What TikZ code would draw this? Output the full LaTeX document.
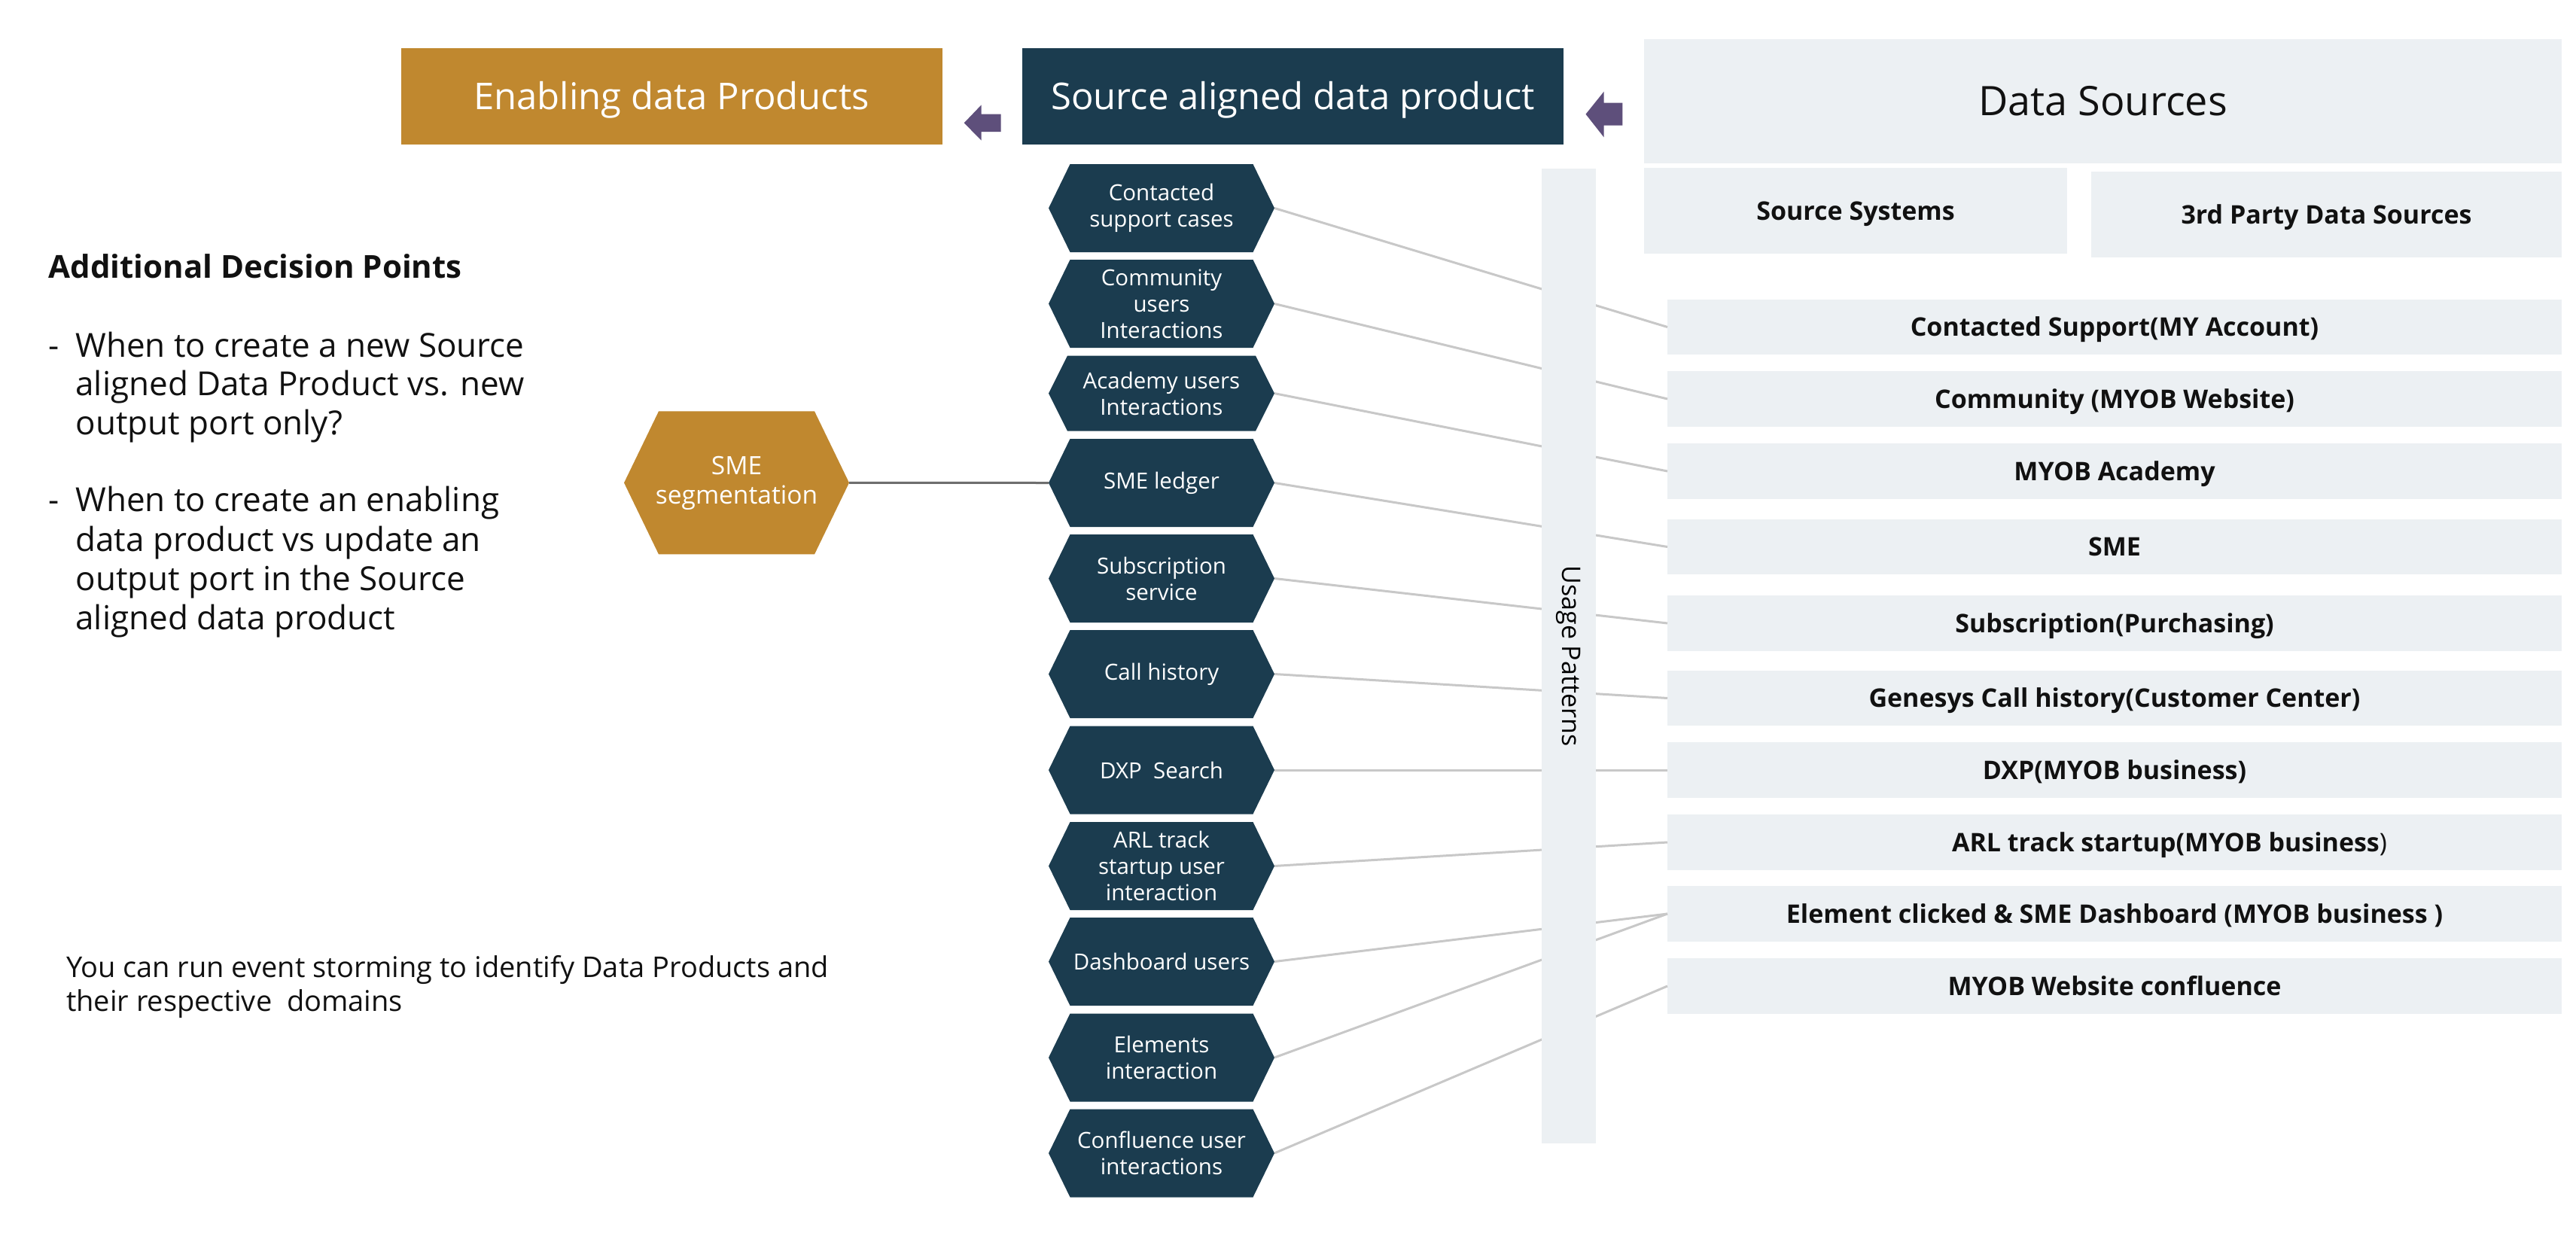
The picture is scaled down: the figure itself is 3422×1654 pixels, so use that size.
\documentclass[tikz,border=0pt]{standalone}
\usepackage{fontspec}
\setmainfont{Open Sans}
\definecolor{navy}{HTML}{1B3C4F}
\definecolor{ochre}{HTML}{C0882F}
\definecolor{arrowpurple}{HTML}{5E4F7B}
\definecolor{panel}{HTML}{ECF0F3}
\definecolor{linkgray}{HTML}{C8C8C8}
\definecolor{darklink}{HTML}{6E6E6E}
\definecolor{ink}{HTML}{111111}
\tikzset{
  every node/.style={inner sep=0pt, outer sep=0pt},
  titlebox/.style={minimum width=719pt, minimum height=128pt, text=white,
    font=\fontsize{49}{58}\selectfont, text height=35pt, text depth=0pt},
  panelbox/.style={fill=panel, text=ink},
  rowbox/.style={panelbox, minimum width=1188pt, minimum height=73.5pt,
    font=\bfseries\fontsize{34}{40}\selectfont, text height=24.3pt, text depth=0pt},
  hexnode/.style n args={3}{minimum width=#1, minimum height=#2, text=white, align=center,
    path picture={\fill[navy] (path picture bounding box.west)
      -- ([xshift=#3]path picture bounding box.north west)
      -- ([xshift=-#3]path picture bounding box.north east)
      -- (path picture bounding box.east)
      -- ([xshift=-#3]path picture bounding box.south east)
      -- ([xshift=#3]path picture bounding box.south west) -- cycle;}},
  hexa/.style={hexnode={300pt}{117pt}{28.5pt}, font=\fontsize{29.5}{35}\selectfont},
  link/.style={draw=linkgray, line width=3pt},
  leftline/.style={anchor=base west, text=ink, font=\fontsize{44}{52}\selectfont},
  blockarrow/.style={fill=arrowpurple},
}
\begin{document}
\begin{tikzpicture}[x=1pt,y=-1pt]
\fill[white] (0,0) rectangle (3422,1654);
\useasboundingbox (0,0) rectangle (3422,1654);

% top boxes
\node[titlebox, fill=ochre] (enab) at (892,128.3) {Enabling data Products};
\node[titlebox, fill=navy] (src) at (1717.5,128) {Source aligned data product};
\node[panelbox, minimum width=1219pt, minimum height=165pt, font=\fontsize{54}{64}\selectfont,
  text height=38.6pt, text depth=0pt] (ds) at (2793.5,134.6) {Data Sources};
\node[panelbox, minimum width=562pt, minimum height=113.4pt, font=\bfseries\fontsize{34}{40}\selectfont,
  text height=24.3pt, text depth=0pt] (ss) at (2465,280) {Source Systems};
\node[panelbox, minimum width=625pt, minimum height=113.4pt, font=\bfseries\fontsize{34}{40}\selectfont,
  text height=24.3pt, text depth=0pt] (tp) at (3090.5,285) {3rd Party Data Sources};

% block arrows
\fill[blockarrow] (1280.7,163.3) -- (1303.7,139.3) -- (1303.7,151.7) -- (1329.5,151.7)
  -- (1329.5,175) -- (1303.7,175) -- (1303.7,186.7) -- cycle;
\fill[blockarrow] (2106.5,151.7) -- (2130.6,121.7) -- (2130.6,136.7) -- (2155.3,136.7)
  -- (2155.3,166.7) -- (2130.6,166.7) -- (2130.6,182.3) -- cycle;

% source rows
\node[rowbox] (r1) at (2809,434.5) {Contacted Support(MY Account)};
\node[rowbox] (r2) at (2809,530) {Community (MYOB Website)};
\node[rowbox] (r3) at (2809,626) {MYOB Academy};
\node[rowbox] (r4) at (2809,726.5) {SME};
\node[rowbox] (r5) at (2809,828) {Subscription(Purchasing)};
\node[rowbox] (r6) at (2809,927.5) {Genesys Call history(Customer Center)};
\node[rowbox] (r7) at (2809,1023) {DXP(MYOB business)};
\node[rowbox] (r8) at (2809,1119) {\hspace*{146pt}ARL track startup(MYOB business\mdseries)};
\node[rowbox] (r9) at (2809,1214) {Element clicked \& SME Dashboard (MYOB business )};
\node[rowbox] (r10) at (2809,1310) {MYOB Website confluence};

% hexagons
\node[hexa] (h1) at (1543,276.5) {Contacted\\support cases};
\node[hexa] (h2) at (1543,403.5) {Community\\users\\Interactions};
\node[hexnode={300pt}{100pt}{25pt}, font=\fontsize{29.5}{35}\selectfont] (h3) at (1543,522.6) {Academy users\\Interactions};
\node[hexa] (h4) at (1543,641.5) {SME ledger};
\node[hexa] (h5) at (1543,768.5) {Subscription\\service};
\node[hexa] (h6) at (1543,895.5) {Call history};
\node[hexa] (h7) at (1543,1023) {DXP\ \ Search};
\node[hexa] (h8) at (1543,1150.5) {ARL track\\startup user\\interaction};
\node[hexa] (h9) at (1543,1277.5) {Dashboard users};
\node[hexa] (h10) at (1543,1405) {Elements\\interaction};
\node[hexa] (h11) at (1543,1532) {Confluence user\\interactions};

\node[hexnode={299pt}{190pt}{46pt}, font=\fontsize{33.5}{39}\selectfont,
  path picture={\fill[ochre] (path picture bounding box.west)
      -- ([xshift=46pt]path picture bounding box.north west)
      -- ([xshift=-46pt]path picture bounding box.north east)
      -- (path picture bounding box.east)
      -- ([xshift=-46pt]path picture bounding box.south east)
      -- ([xshift=46pt]path picture bounding box.south west) -- cycle;}]
  (seg) at (978.5,641.4) {SME\\segmentation};

% connectors
\draw[draw=darklink, line width=3pt] (seg.east) -- (h4.west);
\draw[link] (h1.east) -- (r1.west);
\draw[link] (h2.east) -- (r2.west);
\draw[link] (h3.east) -- (r3.west);
\draw[link] (h4.east) -- (r4.west);
\draw[link] (h5.east) -- (r5.west);
\draw[link] (h6.east) -- (r6.west);
\draw[link] (h7.east) -- (r7.west);
\draw[link] (h8.east) -- (r8.west);
\draw[link] (h9.east) -- (r9.west);
\draw[link] (h10.east) -- (r9.west);
\draw[link] (h11.east) -- (r10.west);

% usage patterns bar (over the connectors)
\node[panelbox, rotate=-90, minimum width=1295pt, minimum height=72pt,
  font=\fontsize{34}{40}\selectfont, text=black] (usage) at (2084,871.5) {Usage Patterns};

% left text
\node[leftline, font=\bfseries\fontsize{42}{50}\selectfont] (adp) at (64.5,369.6) {Additional Decision Points};
\node[leftline] (d1) at (64.5,474) {-};
\node[leftline] (b1a) at (100.5,474) {When to create a new Source};
\node[leftline] (b1b) at (100.5,525) {aligned Data Product vs. new};
\node[leftline] (b1c) at (100.5,577) {output port only?};
\node[leftline] (d2) at (64.5,679) {-};
\node[leftline] (b2a) at (100.5,679) {When to create an enabling};
\node[leftline] (b2b) at (100.5,732) {data product vs update an};
\node[leftline] (b2c) at (100.5,784) {output port in the Source};
\node[leftline] (b2d) at (100.5,836) {aligned data product};

\node[leftline, font=\fontsize{38}{45}\selectfont] (es1) at (88,1298.3) {You can run event storming to identify Data Products and};
\node[leftline, font=\fontsize{38}{45}\selectfont] (es2) at (88,1343.3) {their respective\ \ domains};
\end{tikzpicture}
\end{document}
